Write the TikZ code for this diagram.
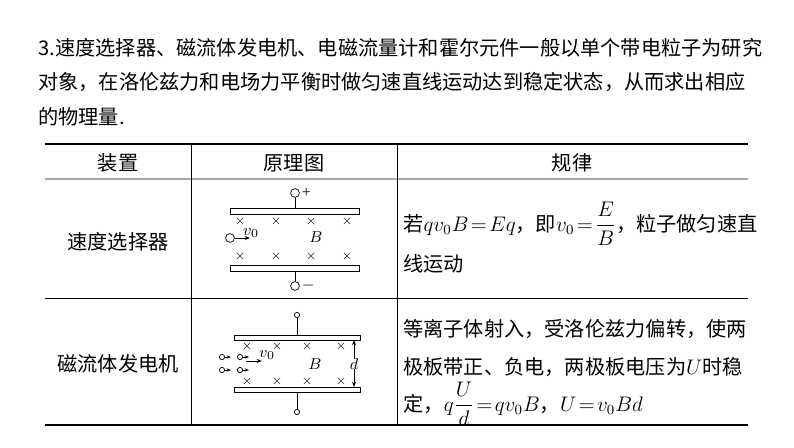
\documentclass[tikz,border=0pt]{standalone}
\usepackage{amsmath}
\usepackage{fontspec}
\setmainfont{Liberation Serif}
\newfontfamily\cjk{Noto Sans CJK SC}
\usetikzlibrary{arrows.meta}
\thickmuskip=2mu
\medmuskip=1mu
\tikzset{
  txt/.style={font=\cjk\fontsize{11.5}{14}\selectfont,inner sep=0pt},
  plate/.style={draw,fill=white,line width=0.5pt},
  cross/.style={font=\fontsize{7}{7}\selectfont,inner sep=0pt},
  term/.style={draw,circle,inner sep=0pt,minimum size=5pt},
  sterm/.style={draw,circle,inner sep=0pt,minimum size=3pt},
  lab/.style={font=\itshape\fontsize{9.5}{9.5}\selectfont,inner sep=0pt}
}
\begin{document}
\begin{tikzpicture}[x=0.02cm,y=-0.02cm]
\useasboundingbox (0,0) rectangle (794,447);
% title
\node[txt,anchor=west] (l1) at (38,48) {3.速度选择器、磁流体发电机、电磁流量计和霍尔元件一般以单个带电粒子为研究};
\node[txt,anchor=west] (l2) at (38,82) {对象，在洛伦兹力和电场力平衡时做匀速直线运动达到稳定状态，从而求出相应};
\node[txt,anchor=west] (l3) at (38,117) {的物理量.};
% table
\draw[line width=1.2pt](45,144)--(748,144);
\draw[gray!70,line width=1pt](45,179)--(748,179);
\draw(45,298)--(748,298);
\draw[line width=0.8pt](45,425)--(748,425);
\draw(191,144)--(191,425);
\draw(397,144)--(397,425);
\node[txt] (h1) at (118,163) {装置};
\node[txt] (h2) at (294,163) {原理图};
\node[txt] (h3) at (572,163) {规律};
\node[txt] (r1) at (118,242) {速度选择器};
\node[txt] (r2) at (118,364) {磁流体发电机};
\node[txt,anchor=west] (t1) at (403,224) {若$qv_0B=Eq$，即$v_0=\dfrac{E}{B}$，粒子做匀速直};
\node[txt,anchor=west] (t2) at (403,264) {线运动};
\node[txt,anchor=west] (t3) at (403,329) {等离子体射入，受洛伦兹力偏转，使两};
\node[txt,anchor=west] (t4) at (403,367) {极板带正、负电，两极板电压为$U$时稳};
\node[txt,anchor=west] (t5) at (403,404) {定，$q\dfrac{U}{d}=qv_0B$，$U=v_0Bd$};
% velocity selector
\draw[plate](230,208) rectangle (359,214);
\draw[plate](230,265) rectangle (359,271);
\node[term] (pt) at (295,193) {};
\node[term] (mt) at (295,286) {};
\node[font=\fontsize{9}{9}\selectfont,anchor=west,inner sep=1pt] at (pt.east) {+};
\node[font=\fontsize{9}{9}\selectfont,anchor=west,inner sep=1pt] at (mt.east) {$-$};
\draw(pt)--(295,208);
\draw(mt)--(295,271);
\foreach \x in {240,276,311,347}{
  \node[cross] at (\x,221) {$\times$};
  \node[cross] at (\x,256) {$\times$};
}
\node[lab] at (316,237) {$B$};
\node[term] (q) at (230,238) {};
\draw[-{Stealth[length=3pt]}](q)--(250,238);
\node[lab] at (251,233) {$v_0$};
% MHD generator
\draw[plate](234,335) rectangle (360,340);
\draw[plate](234,387) rectangle (360,392);
\node[sterm] (gt) at (297,315) {};
\node[sterm] (gb) at (297,412) {};
\draw(gt)--(297,335);
\draw(gb)--(297,392);
\foreach \x in {247,277,307,341}{
  \node[cross] at (\x,346) {$\times$};
  \node[cross] at (\x,381) {$\times$};
}
\node[lab] at (315,364) {$B$};
\draw[{Stealth[length=3pt]}-{Stealth[length=3pt]}](354,340)--(354,387);
\node[lab,fill=white] at (354,364) {$d$};
\foreach \y in {357,370}{
  \foreach \x in {222,240}{
    \node[sterm] (s\x\y) at (\x,\y) {};
    \draw[-{Stealth[length=2.5pt]}](s\x\y)--(\x+9,\y);
  }
}
\draw[-{Stealth[length=3pt]}](246,361)--(262,361);
\node[lab] at (267,355) {$v_0$};
\end{tikzpicture}
\end{document}
